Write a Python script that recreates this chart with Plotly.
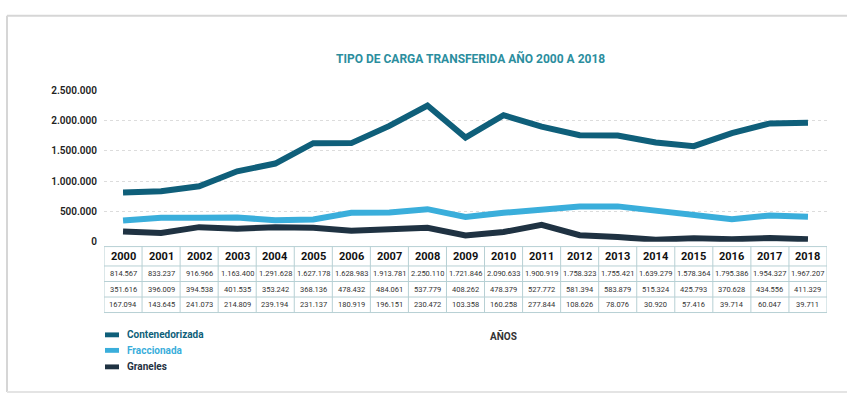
import plotly.graph_objects as go

W, H = 847, 401

# --- data -------------------------------------------------------------
years = [str(y) for y in range(2000, 2019)]
contenedorizada = [814567, 833237, 916966, 1163400, 1291628, 1627178, 1628983,
                   1913781, 2250110, 1721846, 2090633, 1900919, 1758323, 1755421,
                   1639279, 1578364, 1795386, 1954327, 1967207]
fraccionada = [351616, 396009, 394538, 401535, 353242, 368136, 478432, 484061,
               537779, 408262, 478379, 527772, 581394, 583879, 515324, 425793,
               370628, 434556, 411329]
graneles = [167094, 143645, 241073, 214809, 239194, 231137, 180919, 196151,
            230472, 103358, 160258, 277844, 108626, 78076, 30920, 57416,
            39714, 60047, 39711]
series_names = ["Contenedorizada", "Fraccionada", "Graneles"]
series_values = [contenedorizada, fraccionada, graneles]
series_colors = ["#0f5f7a", "#3aaedb", "#1f3242"]
y_ticks = [0, 500000, 1000000, 1500000, 2000000, 2500000]
title = "TIPO DE CARGA TRANSFERIDA AÑO 2000 A 2018"
x_title = "AÑOS"


def px(x):
    return x / W


def py(y):
    return 1 - y / H


def fmt(v):
    return f"{v:,}".replace(",", ".")


PLOT_L, PLOT_R = 104, 827
FONT = "Roboto"
GRID = "#b7d0d4"

fig = go.Figure()
xs = list(range(len(years)))
for name, vals, col in zip(series_names, series_values, series_colors):
    fig.add_trace(go.Scatter(
        x=xs, y=vals, name=name, mode="lines",
        line=dict(color=col, width=6), showlegend=False))

shapes = []
annotations = []

# data table under the chart: columns follow the x axis categories
TABLE_TOP, HEADER_H, ROW_H = 248, 20, 16
row_edges = [TABLE_TOP, TABLE_TOP + HEADER_H] + [
    TABLE_TOP + HEADER_H + ROW_H * (k + 1) for k in range(len(series_values))]
table_bottom = row_edges[-1]
for yy in row_edges:
    shapes.append(dict(type="line", xref="x", yref="paper",
                       x0=-0.5, x1=len(years) - 0.5, y0=py(yy), y1=py(yy),
                       line=dict(color=GRID, width=1)))
for k in range(len(years) + 1):
    shapes.append(dict(type="line", xref="x", yref="paper",
                       x0=k - 0.5, x1=k - 0.5, y0=py(TABLE_TOP), y1=py(table_bottom),
                       line=dict(color=GRID, width=1)))
for i, yr in enumerate(years):
    annotations.append(dict(text=f"<b>{yr}</b>", xref="x", yref="paper",
                            x=i, y=py(TABLE_TOP + HEADER_H / 2),
                            xanchor="center", yanchor="middle", showarrow=False,
                            font=dict(family=FONT, size=11, color="#111111")))
    for r, vals in enumerate(series_values):
        yc = TABLE_TOP + HEADER_H + ROW_H * r + ROW_H / 2
        annotations.append(dict(text=fmt(vals[i]), xref="x", yref="paper",
                                x=i, y=py(yc), xanchor="center", yanchor="middle",
                                showarrow=False,
                                font=dict(family=FONT, size=7.5, color="#333333")))

# card outline
shapes.append(dict(type="line", xref="paper", yref="paper", x0=px(7), x1=1,
                   y0=py(10), y1=py(10), line=dict(color="#d6d6d6", width=2)))
shapes.append(dict(type="line", xref="paper", yref="paper", x0=px(7), x1=px(7),
                   y0=py(10), y1=py(398), line=dict(color="#d6d6d6", width=2)))
shapes.append(dict(type="line", xref="paper", yref="paper", x0=px(7), x1=1,
                   y0=py(398), y1=py(398), line=dict(color="#e4e4e4", width=2)))

# legend built from swatches and labels
leg_y = [339, 355, 372]
for name, col, yy in zip(series_names, series_colors, leg_y):
    shapes.append(dict(type="rect", xref="paper", yref="paper",
                       x0=px(105), x1=px(119), y0=py(yy + 2.5), y1=py(yy - 2.5),
                       fillcolor=col, line=dict(width=0)))
    annotations.append(dict(text=f"<b>{name}</b>", xref="paper", yref="paper",
                            x=px(125), y=py(yy), xanchor="left", yanchor="middle",
                            showarrow=False,
                            font=dict(family=FONT, size=10, color=col)))

annotations.append(dict(text=f"<b>{x_title}</b>", xref="paper", yref="paper",
                        x=px(503), y=py(340), xanchor="center", yanchor="middle",
                        showarrow=False,
                        font=dict(family=FONT, size=10, color="#333333")))
annotations.append(dict(text=f"<b>{title}</b>", xref="paper", yref="paper",
                        x=px(470), y=py(54), xanchor="center", yanchor="middle",
                        showarrow=False,
                        font=dict(family=FONT, size=12, color="#2b8e9e")))

fig.update_layout(
    width=W, height=H, margin=dict(l=0, r=0, t=0, b=0),
    paper_bgcolor="white", plot_bgcolor="white",
    separators=",.",
    xaxis=dict(domain=[px(PLOT_L), px(PLOT_R)], range=[-0.5, len(years) - 0.5],
               showgrid=False, zeroline=False, showticklabels=False,
               showline=False, ticks="", fixedrange=True),
    yaxis=dict(domain=[py(243), py(87)], range=[0, 2500000], tickvals=y_ticks,
               tickformat=",d", showgrid=True, gridcolor="#dcdcdc",
               griddash="dot", gridwidth=1, zeroline=False, showline=False,
               ticks="", ticklabelstandoff=6,
               tickfont=dict(family=FONT, size=10, color="#222222", weight=600),
               fixedrange=True),
    shapes=shapes, annotations=annotations,
)

fig.write_html("out.html")
